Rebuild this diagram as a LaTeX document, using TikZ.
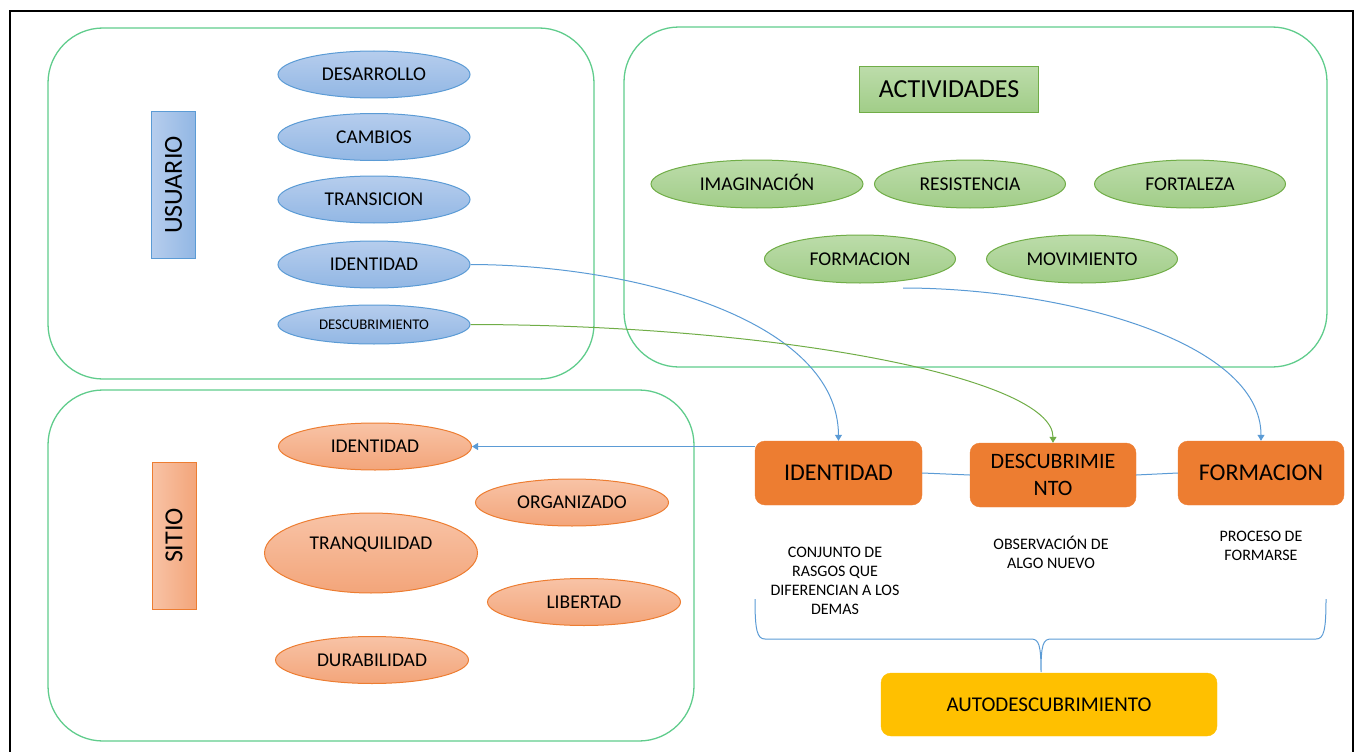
\documentclass[tikz,border=0pt]{standalone}
\usepackage{fontspec}
\setmainfont{Carlito}
\usetikzlibrary{shapes.geometric,arrows.meta}

\definecolor{boxgreen}{RGB}{96,204,140}
\definecolor{bluetop}{RGB}{182,205,237}
\definecolor{bluebot}{RGB}{146,183,228}
\definecolor{blueline}{RGB}{91,155,213}
\definecolor{greentop}{RGB}{188,220,170}
\definecolor{greenbot}{RGB}{161,205,136}
\definecolor{greenline}{RGB}{112,173,71}
\definecolor{orangetop}{RGB}{248,195,166}
\definecolor{orangebot}{RGB}{243,165,122}
\definecolor{orangeline}{RGB}{237,125,49}
\definecolor{orangefill}{RGB}{237,125,49}
\definecolor{goldfill}{RGB}{255,192,0}

\newcommand{\ftsz}[2]{\fontsize{#1}{#2}\selectfont}
\newcommand{\uptext}[1]{\rotatebox{90}{\vphantom{U}#1}}

\tikzset{
  container/.style={rectangle, draw=boxgreen, line width=1.3pt, rounded corners=55pt, inner sep=0pt},
  oval/.style={ellipse, line width=1pt, inner sep=0pt, minimum width=192pt, minimum height=47pt,
    text height=12.6pt, text depth=0pt, font=\ftsz{19.5}{23}},
  blueoval/.style={oval, draw=blueline, top color=bluetop, bottom color=bluebot},
  greenoval/.style={oval, draw=greenline, top color=greentop, bottom color=greenbot, minimum width=191pt, minimum height=48pt},
  orangeoval/.style={oval, draw=orangeline, top color=orangetop, bottom color=orangebot, minimum width=193pt},
  sidetag/.style={rectangle, line width=1pt, inner sep=0pt, minimum width=44pt, minimum height=147pt,
    font=\ftsz{26}{30}},
  procbox/.style={rectangle, rounded corners=10pt, fill=orangefill, draw=orangefill, inner sep=0pt,
    minimum width=166pt, minimum height=64pt, align=center, font=\ftsz{24}{27}},
  note/.style={align=center, inner sep=0pt, font=\ftsz{16}{19}},
  link/.style={draw=blueline, line width=1pt},
  tip/.style={-{Triangle[width=7pt,length=6pt]}}
}

\begin{document}
\begin{tikzpicture}[x=1pt, y=-1pt]
\useasboundingbox (0,0) rectangle (1361,752);

% outer frame (open at the bottom edge)
\draw[line width=2.4pt] (10,770) -- (10,11) -- (1353,11) -- (1353,770);

% three group panels
\node[container, minimum width=546pt, minimum height=351pt] (ubox) at (321,203.5) {};
\node[container, minimum width=703pt, minimum height=340pt] (abox) at (975.5,197) {};
\node[container, minimum width=646pt, minimum height=351pt] (sbox) at (371,565.5) {};

% USUARIO group
\node[sidetag, draw=blueline, left color=bluetop, right color=bluebot] (utag) at (173.5,185) {\uptext{USUARIO}};
\node[blueoval] (u1) at (374,74.5) {DESARROLLO};
\node[blueoval] (u2) at (374,137) {CAMBIOS};
\node[blueoval] (u3) at (374,199.5) {TRANSICION};
\node[blueoval] (u4) at (374,264.5) {IDENTIDAD};
\node[blueoval, minimum height=39pt, text height=9.5pt, font=\ftsz{14.8}{18}] (u5) at (374,324.5) {DESCUBRIMIENTO};

% ACTIVIDADES group
\node[rectangle, draw=greenline, line width=1pt, top color=greentop, bottom color=greenbot, inner sep=0pt,
  minimum width=179pt, minimum height=45pt, text height=16.7pt, text depth=0pt, font=\ftsz{26}{30}] (atag) at (949,89.5) {ACTIVIDADES};
\node[greenoval, minimum width=212pt] (a1) at (757,184) {IMAGINACIÓN};
\node[greenoval] (a2) at (970,184) {RESISTENCIA};
\node[greenoval] (a3) at (1190,184) {FORTALEZA};
\node[greenoval] (a4) at (860,259) {FORMACION};
\node[greenoval] (a5) at (1082,259) {MOVIMIENTO};

% SITIO group
\node[sidetag, draw=orangeline, left color=orangetop, right color=orangebot] (stag) at (174,535.5) {\uptext{SITIO}};
\node[orangeoval] (s1) at (375,446.5) {IDENTIDAD};
\node[orangeoval] (s2) at (572,502.5) {ORGANIZADO};
\node[orangeoval, minimum width=213pt, minimum height=80pt, text depth=20.6pt] (s3) at (371,553) {TRANQUILIDAD};
\node[orangeoval] (s4) at (584,602) {LIBERTAD};
\node[orangeoval] (s5) at (372,660) {DURABILIDAD};

% process boxes
\node[procbox, minimum width=167pt] (bid) at (838.5,473) {IDENTIDAD};
\node[procbox, font=\ftsz{22}{27}] (bdesc) at (1053,475) {DESCUBRIMIE\\NTO};
\node[procbox] (bform) at (1261,473) {FORMACION};

% definitions under the boxes
\node[note, anchor=north] (tid) at (835,547) {CONJUNTO DE\\RASGOS QUE\\DIFERENCIAN A LOS\\DEMAS};
\node[note, anchor=north] (tdesc) at (1051,536) {OBSERVACIÓN DE\\ALGO NUEVO};
\node[note, anchor=north] (tform) at (1261,530.5) {PROCESO DE\\FORMARSE};

% result
\node[rectangle, rounded corners=10pt, fill=goldfill, draw=goldfill, inner sep=0pt, minimum width=336pt,
  minimum height=63pt, font=\ftsz{21}{25}] (auto) at (1049,704.5) {AUTODESCUBRIMIENTO};

% connectors
\coordinate (fstart) at (903,288);
\draw[link, tip] (u4.east) .. controls (640,265) and (838,322) .. (bid.north);
\draw[draw=greenline, line width=1pt, tip] (u5.east) .. controls (780,325) and (1053,378) .. (bdesc.north);
\draw[link, tip] (fstart) .. controls (1060,288) and (1261,340) .. (bform.north);
\draw[link, tip] (bid.west |- s1.east) -- (s1.east);
\draw[link] (bid.east) -- (bdesc.west);
\draw[link] (bdesc.east) -- (bform.west);

% brace gathering the three definitions
\coordinate (brl) at (755,599);
\coordinate (brr) at (1326,599);
\coordinate (brtip) at (1041,672);
\draw[link] (brl) .. controls (755,630) and (757,639) .. (765,639) -- (1031,639)
  .. controls (1039,639) and (brtip |- 0,645) .. (brtip)
  .. controls (1041,645) and (1043,639) .. (1051,639) -- (1316,639)
  .. controls (1324,639) and (1326,630) .. (brr);
\end{tikzpicture}
\end{document}
